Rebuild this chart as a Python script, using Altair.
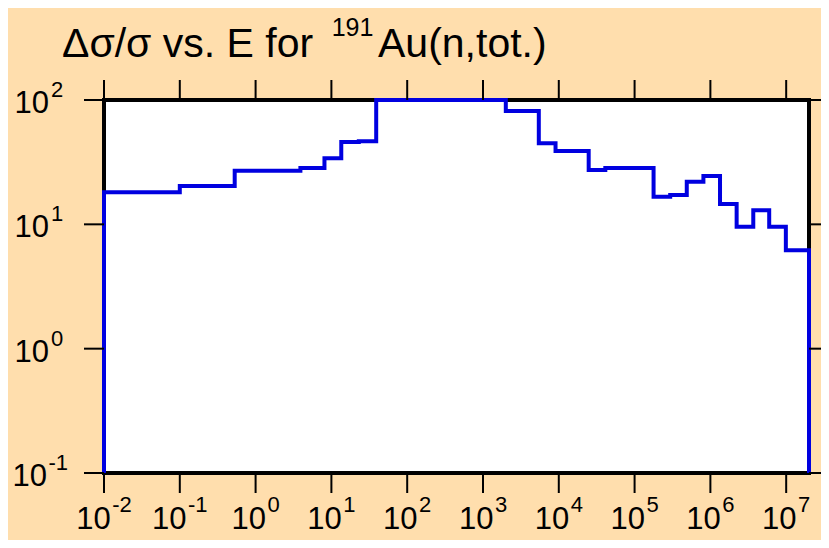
import altair as alt
import pandas as pd

# ---- data ----
EDGES = [0.01, 0.1, 0.53, 3.9, 8.1, 13.5, 23, 39, 2000, 5450, 9060, 24800, 41100,
         178000, 295000, 488000, 809000, 1.34e6, 2.22e6, 3.68e6, 5.97e6, 9.9e6, 2e7]
VALUES = [18.1, 20.3, 27.0, 28.4, 34.0, 45.9, 46.5, 100, 81.5, 44.9, 38.9, 27.4, 28.4,
          16.7, 17.2, 22.0, 24.5, 14.6, 9.57, 13.0, 9.57, 6.2]
FLOOR = 0.1
X_EXP = [-2, -1, 0, 1, 2, 3, 4, 5, 6, 7]
Y_EXP = [-1, 0, 1, 2]
TITLE_MAIN = "Δσ/σ vs. E for"
TITLE_SUP = "191"
TITLE_REST = "Au(n,tot.)"

FONT = "Liberation Sans"
BG = "#FFDEAD"
BLUE = "#0000E0"
W, H = 705, 373

xs = [EDGES[0]] + EDGES[:-1] + [EDGES[-1]]
ys = [FLOOR] + VALUES + [FLOOR]
line_df = pd.DataFrame({"E": xs, "V": ys, "i": list(range(len(xs)))})

xt = pd.DataFrame({"E": [10.0 ** e for e in X_EXP],
                   "exp": [str(e) for e in X_EXP],
                   "neg": [e < 0 for e in X_EXP],
                   "base": ["10"] * len(X_EXP)})
yt = pd.DataFrame({"V": [10.0 ** e for e in Y_EXP],
                   "exp": [str(e) for e in Y_EXP],
                   "neg": [e < 0 for e in Y_EXP],
                   "base": ["10"] * len(Y_EXP)})

xscale = alt.Scale(type="log", domain=[0.01, 2e7], nice=False)
yscale = alt.Scale(type="log", domain=[0.1, 100], nice=False)
X = alt.X("E:Q", scale=xscale, axis=None)
Y = alt.Y("V:Q", scale=yscale, axis=None)

line = alt.Chart(line_df).mark_line(
    interpolate="step-after", color=BLUE, strokeWidth=4
).encode(x=X, y=Y, order="i:Q")

tick_kw = dict(color="black", strokeWidth=2)
bt = alt.Chart(xt).mark_rule(**tick_kw).encode(x=X, y=alt.value(H), y2=alt.value(H + 20))
tt = alt.Chart(xt).mark_rule(**tick_kw).encode(x=X, y=alt.value(-20), y2=alt.value(0))
lt = alt.Chart(yt).mark_rule(**tick_kw).encode(y=Y, x=alt.value(-20), x2=alt.value(0))
rt = alt.Chart(yt).mark_rule(**tick_kw).encode(y=Y, x=alt.value(W), x2=alt.value(W + 20))

BASE_FS, EXP_FS = 31, 22
xneg = xt[xt["neg"]]
xpos = xt[~xt["neg"]]
yneg = yt[yt["neg"]]
ypos = yt[~yt["neg"]]

def txt(df, align, dx, dy, fs, field, enc):
    return alt.Chart(df).mark_text(
        align=align, baseline="alphabetic", dx=dx, dy=dy, font=FONT, fontSize=fs, color="black"
    ).encode(text=f"{field}:N", **enc)

xl = [
    txt(xneg, "right", 6.75, 0, BASE_FS, "base", dict(x=X, y=alt.value(428.5))),
    txt(xneg, "left", 8.25, 0, EXP_FS, "exp", dict(x=X, y=alt.value(411.7))),
    txt(xpos, "right", 10.4, 0, BASE_FS, "base", dict(x=X, y=alt.value(428.5))),
    txt(xpos, "left", 11.9, 0, EXP_FS, "exp", dict(x=X, y=alt.value(411.7))),
]
yl = [
    txt(yneg, "right", -57, 13, BASE_FS, "base", dict(y=Y, x=alt.value(0))),
    txt(yneg, "left", -55.5, -3, EXP_FS, "exp", dict(y=Y, x=alt.value(0))),
    txt(ypos, "right", -55, 13, BASE_FS, "base", dict(y=Y, x=alt.value(0))),
    txt(ypos, "left", -53, -3, EXP_FS, "exp", dict(y=Y, x=alt.value(0))),
]

def title_part(s, x, y, fs):
    return alt.Chart(pd.DataFrame({"t": [s]})).mark_text(
        align="left", baseline="alphabetic", font=FONT, fontSize=fs, color="black"
    ).encode(text="t:N", x=alt.value(x), y=alt.value(y))

titles = [
    title_part(TITLE_MAIN, -42, -43.3, 41),
    title_part(TITLE_SUP, 227.7, -64.3, 25),
    title_part(TITLE_REST, 274, -43.3, 41),
]

chart = alt.layer(
    line, bt, tt, lt, rt, *xl, *yl, *titles
).properties(
    width=W, height=H, background=BG,
    padding={"left": 96, "top": 92, "right": 12, "bottom": 67},
    autosize=alt.AutoSizeParams(type="none"),
).configure_view(fill="white", stroke="black", strokeWidth=4)

chart.save("out.html", embed_options={"renderer": "svg", "actions": False})
